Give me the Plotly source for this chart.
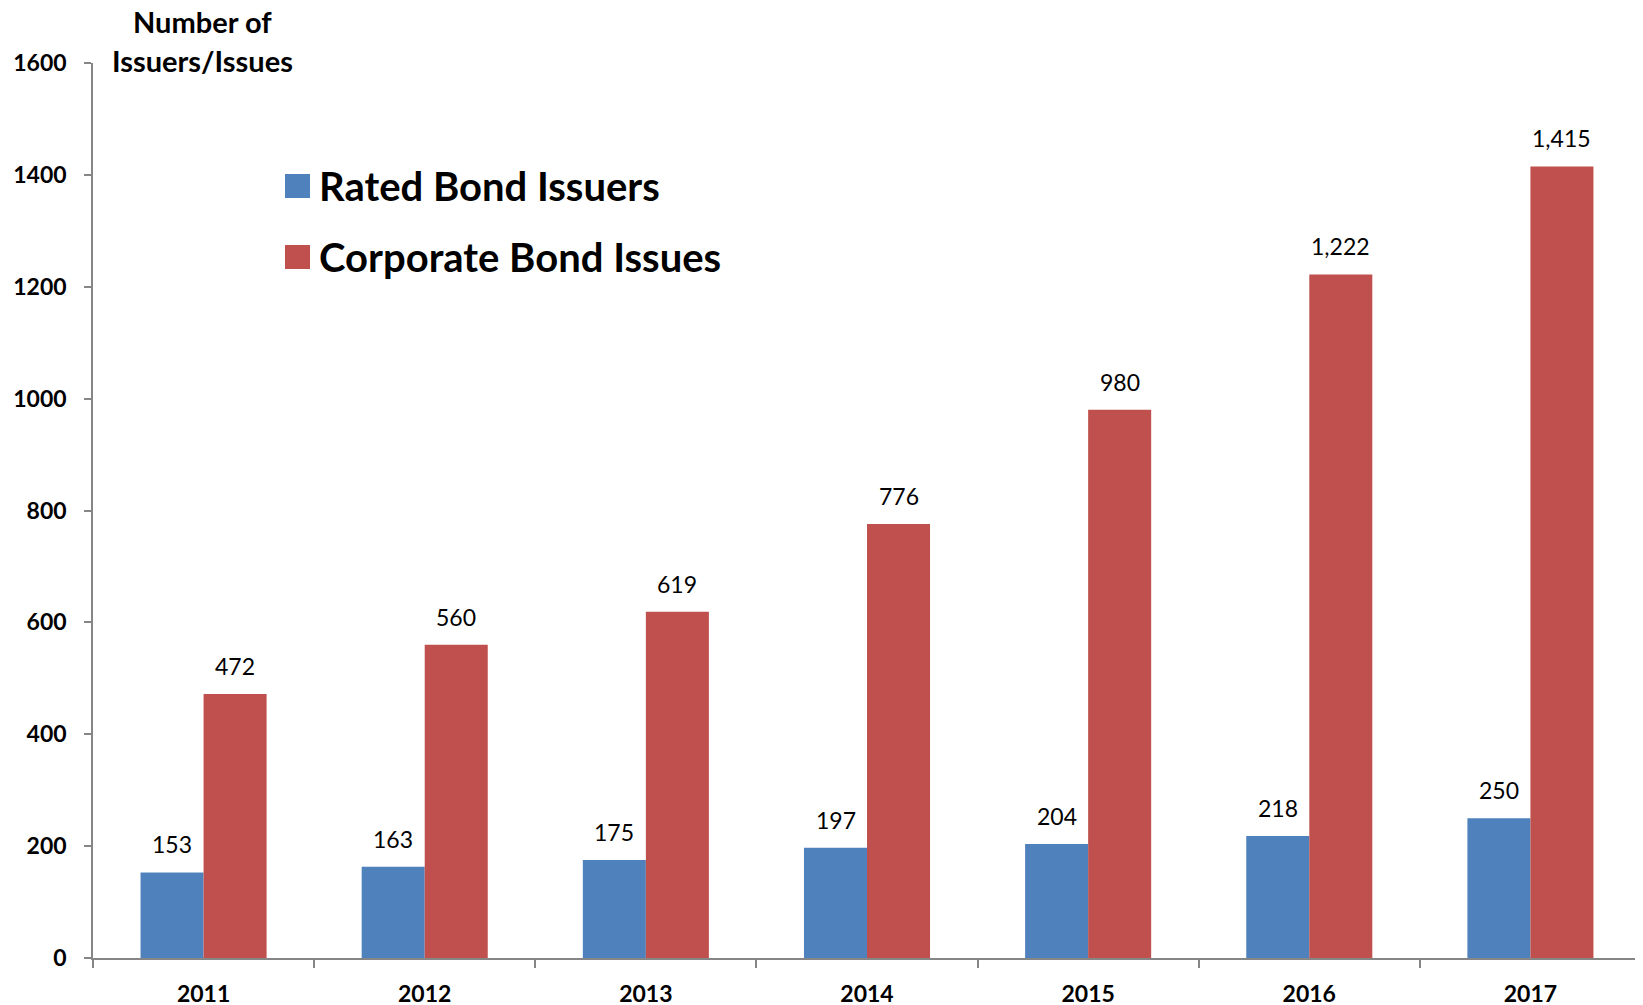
import plotly.graph_objects as go

years = ["2011", "2012", "2013", "2014", "2015", "2016", "2017"]
rated_issuers = [153, 163, 175, 197, 204, 218, 250]
corporate_issues = [472, 560, 619, 776, 980, 1222, 1415]
y_ticks = [0, 200, 400, 600, 800, 1000, 1200, 1400, 1600]

series_names = ["Rated Bond Issuers", "Corporate Bond Issues"]
colors = ["#4F81BD", "#C0504D"]

W, H = 1643, 1005
OFF = 8  # page body margin
# plot area in page pixels: x 93..1641, y 63..958
PL, PR, PT, PB = 93, 1641, 63, 958
L = PL - OFF
T = PT - OFF
R = W - (PR - OFF)
B = H - (PB - OFF)
PW, PH = PR - PL, PB - PT

fig = go.Figure()
fig.add_trace(go.Bar(x=years, y=rated_issuers, name=series_names[0],
                     marker=dict(color=colors[0], line=dict(width=0)), showlegend=False))
fig.add_trace(go.Bar(x=years, y=corporate_issues, name=series_names[1],
                     marker=dict(color=colors[1], line=dict(width=0)), showlegend=False))

label_font = dict(family="Lato, Open Sans, sans-serif", size=23, color="#000000")
annotations = []
for idx, (a, b) in enumerate(zip(rated_issuers, corporate_issues)):
    annotations.append(dict(x=idx, y=a, xref="x", yref="y", text=f"{a:,}", showarrow=False,
                            xshift=-31.5, yshift=28, yanchor="middle", font=label_font))
    annotations.append(dict(x=idx, y=b, xref="x", yref="y", text=f"{b:,}", showarrow=False,
                            xshift=31.5, yshift=28, yanchor="middle", font=label_font))

def px_x(px):
    return (px - PL) / PW

def px_y(py):
    return (PB - py) / PH

title_font = dict(family="Lato, Open Sans, sans-serif", size=29, color="#000000")
annotations.append(dict(x=px_x(202), y=px_y(22), xref="paper", yref="paper", text="<b>Number of</b>",
                        showarrow=False, xanchor="center", yanchor="middle", font=title_font))
annotations.append(dict(x=px_x(202), y=px_y(60), xref="paper", yref="paper", text="<b>Issuers/Issues</b>",
                        showarrow=False, xanchor="center", yanchor="middle", font=title_font))

# custom legend
shapes = []
legend_font = dict(family="Lato, Open Sans, sans-serif", size=40, color="#000000")
for i, (name, col) in enumerate(zip(series_names, colors)):
    cy = 186 + i * 71
    shapes.append(dict(type="rect", xref="paper", yref="paper",
                       x0=px_x(285), x1=px_x(310), y0=px_y(cy + 12), y1=px_y(cy - 12),
                       fillcolor=col, line=dict(width=0)))
    annotations.append(dict(x=px_x(317), y=px_y(cy), xref="paper", yref="paper",
                            text=f"<b>{name}</b>", showarrow=False, xanchor="left",
                            yanchor="middle", font=legend_font))

fig.update_layout(
    width=W, height=H, autosize=False,
    margin=dict(l=L, r=R, t=T, b=B, pad=0),
    paper_bgcolor="white", plot_bgcolor="white",
    barmode="group", bargap=0.43, bargroupgap=0,
    annotations=annotations, shapes=shapes,
    showlegend=False,
    font=dict(family="Lato, Open Sans, sans-serif", color="#000000"),
)
fig.update_xaxes(
    type="category", showgrid=False, showline=True, linecolor="#868686", linewidth=1.5,
    ticks="outside", tickson="boundaries", ticklen=8, tickcolor="#868686", tickwidth=1.5,
    tickfont=dict(family="Lato, Open Sans, sans-serif", size=23, color="#000000", weight="bold"),
    ticklabelstandoff=15, zeroline=False, automargin=False,
)
fig.update_yaxes(
    range=[0, 1600], tickvals=y_ticks, ticktext=[str(v) for v in y_ticks],
    showgrid=False, showline=True, linecolor="#868686", linewidth=1.5,
    ticks="outside", ticklen=7, tickcolor="#868686", tickwidth=1.5,
    tickfont=dict(family="Lato, Open Sans, sans-serif", size=23, color="#000000", weight="bold"),
    ticklabelstandoff=13, zeroline=False, automargin=False,
)

fig.write_html("out.html")
